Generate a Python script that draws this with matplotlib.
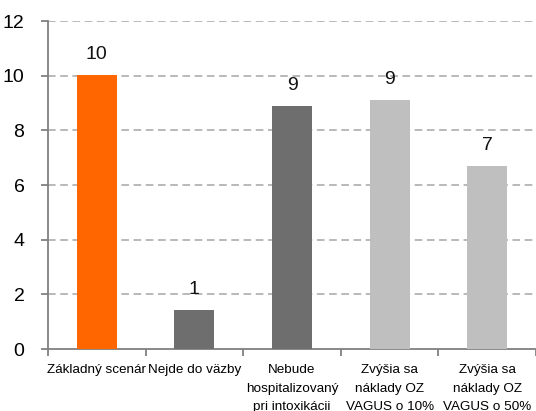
import numpy as np
import matplotlib.pyplot as plt

plt.rcParams['font.family'] = ['Liberation Sans', 'DejaVu Sans']

## Data
scenare = ["Základný scenár", "Nejde do väzby", "Nebude\nhospitalizovaný\npri intoxikácii",
           "Zvýšia sa\nnáklady OZ\nVAGUS o 10%", "Zvýšia sa\nnáklady OZ\nVAGUS o 50%"]
hodnoty = [10.02, 1.43, 8.89, 9.11, 6.70]
farby = ["#FF6600", "#6E6E6E", "#6E6E6E", "#BFBFBF", "#BFBFBF"]
yticks = [0, 2, 4, 6, 8, 10, 12]

fig = plt.figure(figsize=(5.36, 4.11), dpi=100)
ax = fig.add_axes([48/536, 1 - 349/411, 1 - 48/536, (349 - 21)/411])

x = np.arange(len(scenare))
ax.bar(x, hodnoty, width=0.41, color=farby, zorder=3)

for xi, v in zip(x, hodnoty):
    ax.annotate(f"{v:.0f}", (xi, v), xytext=(0, 16), textcoords='offset pixels',
                ha='center', va='baseline', fontsize=14, color='#111111')

ax.set_xlim(-0.5, 4.5)
ax.set_ylim(0, 12)
ax.set_yticks(yticks)
ax.set_yticklabels([str(t) for t in yticks], fontsize=14)
for t in yticks[1:]:
    ax.axhline(t, color='#A6A6A6', lw=1.1, ls=(0, (5, 3)), zorder=1)

ax.set_xticks(x)
ax.set_xticklabels(scenare, fontsize=9.7, linespacing=1.7)
ax.set_xticks(np.arange(-0.5, 5, 1), minor=True)
ax.tick_params(axis='x', which='major', length=0, pad=11)
ax.tick_params(axis='x', which='minor', length=5, width=1.3, color='#808080')
ax.tick_params(axis='y', length=5, width=1.3, color='#808080', pad=12)

for s in ['top', 'right']:
    ax.spines[s].set_visible(False)
for s in ['left', 'bottom']:
    ax.spines[s].set_color('#808080')
    ax.spines[s].set_linewidth(1.3)

fig.savefig('out.png', dpi=100)
